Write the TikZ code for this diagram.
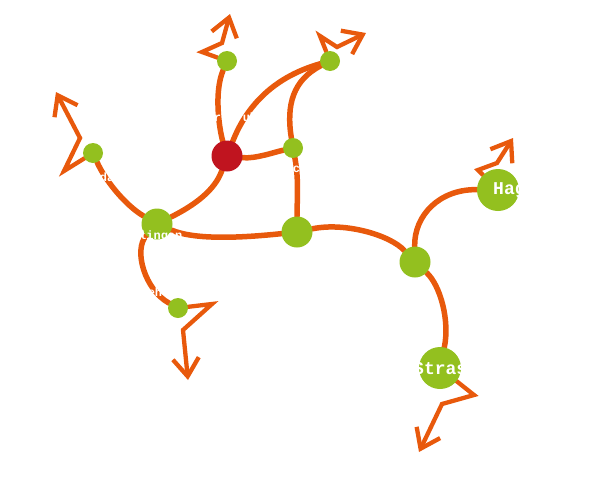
\documentclass[tikz,border=0pt]{standalone}
\usepackage{fontspec}
\setmonofont{Liberation Mono}
\usetikzlibrary{arrows.meta,backgrounds}
\definecolor{maporange}{HTML}{E8590C}
\definecolor{mapgreen}{HTML}{93C01F}
\definecolor{mapred}{HTML}{C0141F}
\tikzset{
  city/.style={circle, fill=mapgreen, inner sep=0pt, minimum size=20pt},
  midcity/.style={city, minimum size=31pt},
  bigcity/.style={city, minimum size=42pt},
  hub/.style={city, fill=mapred, minimum size=31pt},
  route/.style={draw=maporange, line width=5.5pt, line cap=round},
  exitroute/.style={draw=maporange, line width=4.3pt, line cap=round, line join=miter,
    -{Straight Barb[length=18pt, width=26pt]}},
  citylabel/.style={text=white, font=\ttfamily\bfseries\fontsize{12}{13}\selectfont, inner sep=0pt},
  biglabel/.style={citylabel, font=\ttfamily\bfseries\fontsize{18}{19}\selectfont}
}
\begin{document}
\begin{tikzpicture}[x=1pt, y=-1pt]
  \useasboundingbox (0,0) rectangle (591,490);

  \node[hub] (karlsruhe) at (227,156) {};
  \node[city] (rastatt) at (227,61) {};
  \node[city] (heidelberg) at (330,61) {};
  \node[city] (bruchsal) at (293,148) {};
  \node[city] (landau) at (93,153) {};
  \node[city] (kehl) at (178,308) {};
  \node[midcity] (ettlingen) at (157,224) {};
  \node[midcity] (pforzheim) at (297,232) {};
  \node[midcity] (baden) at (415,262) {};
  \node[bigcity] (haguenau) at (498,190) {};
  \node[bigcity] (strasbourg) at (440,368) {};

  % routes leaving the map
  \coordinate (r1) at (202,52);  \coordinate (r2) at (222,43);  \coordinate (rout) at (230,14);
  \coordinate (h1) at (320,36);  \coordinate (h2) at (337,47);  \coordinate (hout) at (366,33);
  \coordinate (l1) at (64,171);  \coordinate (l2) at (80,138);  \coordinate (lout) at (56,92);
  \coordinate (k1) at (212,304); \coordinate (k2) at (183,330); \coordinate (kout) at (188,380);
  \coordinate (s1) at (474,395); \coordinate (s2) at (442,404); \coordinate (sout) at (419,452);
  \coordinate (g1) at (478,170); \coordinate (g2) at (497,163); \coordinate (gout) at (513,138);

  \begin{scope}[on background layer]
    \draw[route] (karlsruhe) .. controls (219,128) and (214,92) .. (rastatt);
    \draw[route] (karlsruhe) .. controls (245,110) and (270,78) .. (heidelberg);
    \draw[route] (karlsruhe) .. controls (255,159) and (275,152) .. (bruchsal);
    \draw[route] (bruchsal) .. controls (286,105) and (293,80) .. (heidelberg);
    \draw[route] (bruchsal) .. controls (299,180) and (297,200) .. (pforzheim);
    \draw[route] (karlsruhe) .. controls (215,190) and (195,205) .. (ettlingen);
    \draw[route] (ettlingen) .. controls (125,205) and (105,180) .. (landau);
    \draw[route] (ettlingen) .. controls (133,250) and (145,290) .. (kehl);
    \draw[route] (ettlingen) .. controls (195,240) and (240,238) .. (pforzheim);
    \draw[route] (pforzheim) .. controls (345,222) and (390,235) .. (baden);
    \draw[route] (baden) .. controls (414,215) and (440,189) .. (haguenau);
    \draw[route] (baden) .. controls (440,285) and (450,320) .. (strasbourg);

    \draw[exitroute] (rastatt) -- (r1) -- (r2) -- (rout);
    \draw[exitroute] (heidelberg) -- (h1) -- (h2) -- (hout);
    \draw[exitroute] (landau) -- (l1) -- (l2) -- (lout);
    \draw[exitroute] (kehl) -- (k1) -- (k2) -- (kout);
    \draw[exitroute] (strasbourg) -- (s1) -- (s2) -- (sout);
    \draw[exitroute] (haguenau) -- (g1) -- (g2) -- (gout);
  \end{scope}

  \node[citylabel] (karlsruhe-l) at (232,117) {Karlsruhe};
  \node[citylabel] (ettlingen-l) at (150,236) {Ettlingen};
  \node[citylabel] (landau-l) at (100,177) {Landau};
  \node[citylabel] (kehl-l) at (155,292) {Kehl};
  \node[citylabel] (bruchsal-l) at (300,168) {Bruchsal};
  \node[biglabel, anchor=west] (haguenau-l) at (493,190) {Haguenau};
  \node[biglabel, anchor=west] (strasbourg-l) at (413,370) {Strasbourg};
\end{tikzpicture}
\end{document}
